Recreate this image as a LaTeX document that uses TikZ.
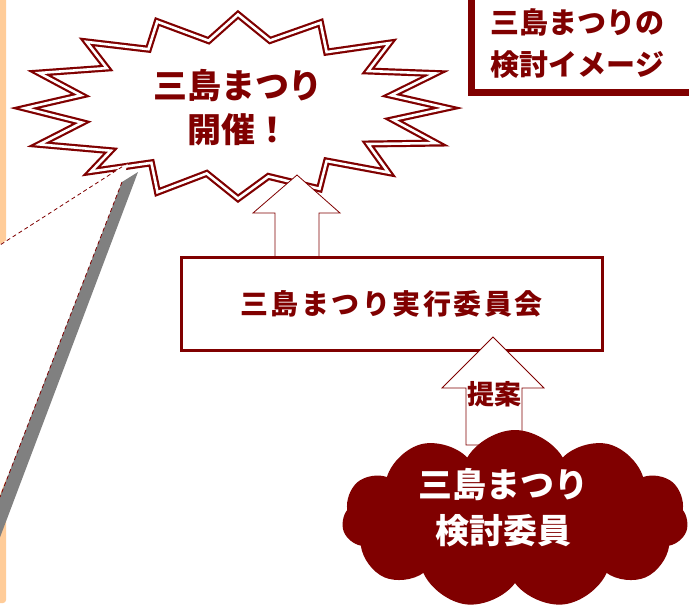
\documentclass[tikz,border=0pt]{standalone}
\usepackage{fontspec}
\newfontfamily\jp{Noto Sans CJK JP}
\usetikzlibrary{shapes.symbols}
\definecolor{dred}{HTML}{800000}
\definecolor{stripc}{HTML}{FFCC99}
\definecolor{shadowc}{HTML}{808080}
\tikzset{
  burstline/.style={draw=dred, line width=2.2pt, double=white, double distance=2.6pt, line join=miter, miter limit=25},
  blockarrow/.style={draw=dred, line width=0.8pt, fill=white, line join=miter},
  jptext/.style={text=dred, align=center},
  calloutline/.style={draw=dred, line width=0.8pt, dash pattern=on 4pt off 3pt},
}
\newcommand\gp{\hspace{2.5pt}}
\def\burstpath{(238,14.5) -- (270,40.5) -- (320.5,22.7) -- (326.6,52.1) -- (389.4,43.1) -- (368,71) -- (435.3,73.5) -- (391,95.3) -- (447,108) -- (393,119.7) -- (436.2,143.1) -- (368,144) -- (388.5,172.5) -- (326.6,161) -- (319.5,188.8) -- (268.4,176.4) -- (238,198.6) -- (206.7,173.4) -- (157.5,192.2) -- (151.4,162.8) -- (91.1,171.5) -- (110.8,150.7) -- (39.3,144.4) -- (82,122.6) -- (24.9,108.2) -- (81,95.3) -- (39.2,73) -- (106.8,68.1) -- (86.6,41.9) -- (148.4,49.2) -- (157.2,21.6) -- (208.6,40.7) -- cycle}
\begin{document}
\begin{tikzpicture}[x=1pt,y=-1pt]
\useasboundingbox (0,0) rectangle (689,606);
\fill[white] (0,0) rectangle (689,606);
% left strip
\fill[stripc, rounded corners=3pt] (-6,-6) rectangle (6,603);
% starburst
\fill[white] \burstpath;
\draw[burstline] \burstpath;
\node[jptext, font=\jp\bfseries\fontsize{34}{44}\selectfont] (burst) at (238,108) {三島まつり\\開催！};
% callout
\fill[white] (128,163) -- (-1,245) -- (-1,497) -- (122,182) -- cycle;
\fill[shadowc] (122,182) -- (138,172) -- (-1,540) -- (-1,499) -- cycle;
\coordinate (ct1) at (128,163);
\coordinate (ct2) at (122,182);
\coordinate (ce1) at (0,245);
\coordinate (ce2) at (0,497);
\draw[calloutline] (ct1) -- (ce1);
\draw[calloutline] (ct2) -- (ce2);
% title
\draw[dred, line width=7pt, fill=white] (471.5,-10) rectangle (700,92.5);
\node[jptext, font=\jp\bfseries\fontsize{29}{42}\selectfont] (title) at (577.5,43.5) {三島まつりの\\検討イメージ};
% arrow 1 (box -> burst)
\draw[blockarrow] (275,257) -- (275,213) -- (253,213) -- (297,175) -- (340,213) -- (319,213) -- (319,257) -- cycle;
% box
\node[draw=dred, line width=3pt, fill=white, minimum width=421pt, minimum height=93pt, inner sep=0pt, jptext, font=\jp\bfseries\fontsize{28}{34}\selectfont] (box) at (391.5,303.5) {\raisebox{3pt}{三\gp 島\gp ま\gp つ\gp り\gp 実\gp 行\gp 委\gp 員\gp 会}};
% arrow 2 (cloud -> box)
\draw[blockarrow] (466,445) -- (466,388) -- (442,388) -- (493,337) -- (544,388) -- (522,388) -- (522,445) -- cycle;
\node[jptext, font=\jp\bfseries\fontsize{27}{30}\selectfont] (teian) at (494.5,394) {提案};
% cloud
\node[cloud, cloud puffs=11, cloud puff arc=120, cloud ignores aspect, fill=dred, minimum width=346pt, minimum height=178pt, inner sep=0pt] (cloud) at (515,519) {};
\node[text=white, align=center, font=\jp\bfseries\fontsize{34}{46}\selectfont] (cloudtext) at (503,508) {三島まつり\\検討委員};
\end{tikzpicture}
\end{document}
